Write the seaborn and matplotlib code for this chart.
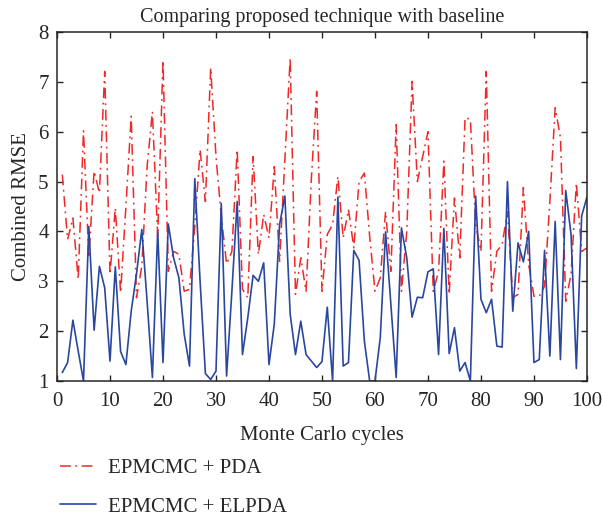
import numpy as np
import pandas as pd
import matplotlib
matplotlib.use('Agg')
import matplotlib.pyplot as plt
import seaborn as sns

cycles = list(range(1, 101))

pda = [5.14, 3.84, 4.27, 3.04, 6.02, 3.47, 5.21, 4.77, 7.21, 3.14,
       4.47, 2.77, 4.50, 6.31, 2.67, 3.30, 5.30, 6.40, 3.90, 7.43,
       3.20, 3.60, 3.54, 2.80, 2.84, 4.10, 5.64, 4.60, 7.28, 5.50,
       4.30, 3.35, 3.60, 5.64, 2.84, 2.67, 5.50, 3.54, 4.34, 3.87,
       5.30, 3.40, 5.45, 7.48, 2.74, 3.47, 2.80, 5.07, 6.81, 2.80,
       3.94, 4.14, 5.10, 3.87, 4.44, 3.67, 5.00, 5.17, 3.90, 2.80,
       3.07, 4.40, 3.20, 6.14, 2.80, 4.00, 7.01, 5.00, 5.50, 6.00,
       2.80, 3.20, 5.41, 2.74, 4.67, 3.47, 6.28, 6.25, 4.14, 3.60,
       7.21, 2.80, 3.60, 3.74, 4.40, 2.67, 2.74, 4.88, 3.34, 2.70,
       2.70, 2.90, 4.60, 6.48, 5.88, 2.60, 3.14, 4.97, 3.60, 3.67]

elpda = [1.17, 1.37, 2.22, 1.60, 1.00, 4.10, 2.02, 3.30, 2.87, 1.40,
         3.29, 1.59, 1.33, 2.40, 3.15, 4.04, 2.60, 1.07, 4.00, 1.37,
         4.15, 3.47, 3.07, 1.94, 1.30, 5.06, 3.00, 1.15, 1.03, 1.20,
         4.56, 1.10, 2.80, 4.60, 1.53, 2.27, 3.12, 3.00, 3.37, 1.33,
         2.14, 4.14, 4.71, 2.34, 1.53, 2.20, 1.53, 1.40, 1.27, 1.39,
         2.48, 1.00, 4.69, 1.30, 1.37, 3.62, 3.42, 1.80, 1.00, 1.00,
         1.87, 3.99, 2.54, 1.07, 4.07, 3.47, 2.28, 2.68, 2.67, 3.19,
         3.25, 1.53, 4.06, 1.55, 2.07, 1.20, 1.37, 1.00, 4.71, 2.64,
         2.37, 2.64, 1.70, 1.68, 5.00, 2.40, 3.77, 3.39, 4.00, 1.37,
         1.43, 3.62, 1.50, 4.20, 1.43, 4.82, 3.94, 1.25, 4.31, 4.69]

labels = ['EPMCMC + PDA', 'EPMCMC + ELPDA']

sns.set_style('ticks')
plt.rcParams['font.family'] = ['Liberation Serif', 'DejaVu Serif']

fig = plt.figure(figsize=(6.02, 5.16), dpi=100)
ax = fig.add_axes([0.0947, 0.2616, 0.8803, 0.6764])

sns.lineplot(x=cycles, y=pda, ax=ax, color='#f02828', linewidth=1.1,
             label=labels[0])
sns.lineplot(x=cycles, y=elpda, ax=ax, color='#2a47a0', linewidth=1.2,
             label=labels[1])
ax.lines[0].set_dashes([7, 3, 1.2, 3])

ax.set_xlim(0, 100)
ax.set_ylim(1, 8)
ax.set_xticks(range(0, 101, 10))
ax.set_yticks(range(1, 9))
ax.tick_params(direction='in', top=True, right=True, labelsize=15,
               length=4, width=1)
ax.tick_params(axis='x', pad=8)
ax.tick_params(axis='y', pad=6)
for s in ax.spines.values():
    s.set_linewidth(1.1)

ax.set_title('Comparing proposed technique with baseline', fontsize=14.5, pad=7)
ax.set_xlabel('Monte Carlo cycles', fontsize=15, labelpad=11)
ax.set_ylabel('Combined RMSE', fontsize=15, labelpad=5)

h, l = ax.get_legend_handles_labels()
ax.get_legend().remove()
fig.legend(h, l, loc='upper left', bbox_to_anchor=(0.085, 0.127),
           frameon=False, fontsize=15, handlelength=1.75, labelspacing=0.9,
           handletextpad=0.6, borderaxespad=0)

fig.savefig('out.png', dpi=100)
